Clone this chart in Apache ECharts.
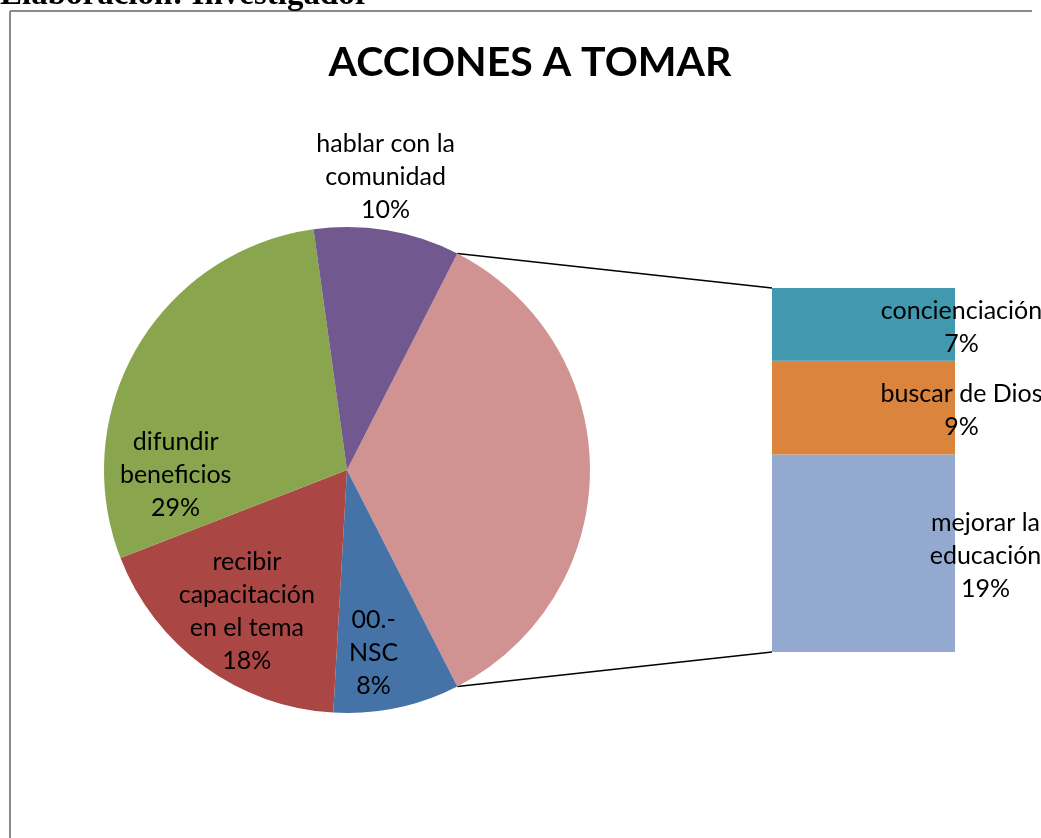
<!DOCTYPE html>
<html>
<head>
<meta charset="utf-8">
<script src="https://cdn.jsdelivr.net/npm/echarts@6/dist/echarts.min.js"></script>
<style>
html,body{margin:0;padding:0;background:#fff;}
#c{width:1041px;height:838px;}
</style>
</head>
<body>
<div id="c"></div>
<script>
// ---- data ----
const titleText = 'ACCIONES A TOMAR';
const sourceText = 'Elaboración: Investigador';
const otherName = 'Otros';
const pieCategories = ['00.-\nNSC', 'recibir\ncapacitación\nen el tema', 'difundir\nbeneficios', 'hablar con la\ncomunidad'];
const pieValues = [8.4, 18.2, 28.7, 9.7];
const barCategories = ['concienciación', 'buscar de Dios', 'mejorar la\neducación'];
const barValues = [7, 9, 19];

// ---- styles ----
const pieColors = ['#4572A7', '#AA4643', '#89A54E', '#71588F'];
const otherColor = '#D19392';
const barColors = ['#4198AF', '#DB843D', '#93A9CF'];
const labelFont = 'Lato';
const pieCenter = [347, 470];
const pieRadius = 243;
const gridBox = { left: 772, top: 288, width: 183, height: 364 };
// label offsets relative to default inside positions (index 0 = the "other" slice)
const pieLabelOffsets = [null, [1, 61], [-27, 40.5], [-64, 68], [18, -170]];
const barLabelOffsets = [[98, 3], [98, 3], [122, 3]];

const sum = a => a.reduce((s, v) => s + v, 0);
const otherValue = sum(barValues);
const total = sum(pieValues) + otherValue;
const startAngle = otherValue / total * 180;

const chart = echarts.init(document.getElementById('c'), null, { renderer: 'canvas' });

const pieData = [{ name: otherName, value: otherValue, itemStyle: { color: otherColor }, label: { show: false }, labelLine: { show: false } }]
  .concat(pieCategories.map((n, i) => ({ name: n, value: pieValues[i], itemStyle: { color: pieColors[i] } })));

const barSeries = [];
for (let i = barCategories.length - 1; i >= 0; i--) {
  barSeries.push({
    type: 'bar',
    name: barCategories[i],
    stack: 'otros',
    data: [barValues[i]],
    barWidth: '100%',
    itemStyle: { color: barColors[i] },
    silent: true,
    label: {
      show: true,
      position: 'inside',
      offset: barLabelOffsets[i],
      formatter: p => p.seriesName + '\n' + Math.round(p.value / total * 100) + '%',
      fontFamily: labelFont,
      fontSize: 25,
      lineHeight: 33,
      color: '#000',
      align: 'center'
    }
  });
}

// connector lines: from the edges of the "other" slice to the corners of the stacked bar
const a = startAngle * Math.PI / 180;
const px = pieCenter[0] + pieRadius * Math.cos(a);
const pyTop = pieCenter[1] - pieRadius * Math.sin(a);
const pyBot = pieCenter[1] + pieRadius * Math.sin(a);
const valueToY = v => gridBox.top + gridBox.height * (1 - v / otherValue);
const barLeft = gridBox.left;

const option = {
  animation: false,
  backgroundColor: '#fff',
  title: {
    text: titleText,
    left: 530,
    top: 42,
    textAlign: 'center',
    padding: 0,
    textStyle: { fontFamily: labelFont, fontWeight: 'bold', fontSize: 41, color: '#000', lineHeight: 41 }
  },
  grid: { left: gridBox.left, top: gridBox.top, width: gridBox.width, height: gridBox.height, containLabel: false },
  xAxis: { type: 'category', data: [otherName], show: false },
  yAxis: { type: 'value', min: 0, max: otherValue, show: false },
  graphic: [
    { type: 'line', silent: true, shape: { x1: 10, y1: 11, x2: 1032, y2: 11 }, style: { stroke: '#8a8a8a', lineWidth: 2 } },
    { type: 'line', silent: true, shape: { x1: 10, y1: 11, x2: 10, y2: 838 }, style: { stroke: '#8a8a8a', lineWidth: 2 } },
    { type: 'text', silent: true, x: 0, y: -5, style: { text: sourceText, font: 'bold 33px "Liberation Serif"', fill: '#000', verticalAlign: 'middle', align: 'left' } },
    { type: 'line', silent: true, shape: { x1: px, y1: pyTop, x2: barLeft, y2: valueToY(otherValue) }, style: { stroke: '#000', lineWidth: 1.7 } },
    { type: 'line', silent: true, shape: { x1: px, y1: pyBot, x2: barLeft, y2: valueToY(0) }, style: { stroke: '#000', lineWidth: 1.7 } }
  ],
  series: [{
    type: 'pie',
    center: pieCenter,
    radius: pieRadius,
    startAngle: startAngle,
    clockwise: true,
    silent: true,
    data: pieData,
    itemStyle: { borderWidth: 0 },
    label: {
      show: true,
      position: 'inside',
      formatter: p => p.name + '\n' + Math.round(p.percent) + '%',
      fontFamily: labelFont,
      fontSize: 25,
      lineHeight: 33,
      color: '#000',
      align: 'center'
    },
    labelLine: { show: false },
    labelLayout: function (params) {
      const o = pieLabelOffsets[params.dataIndex];
      return o ? { dx: o[0], dy: o[1] } : {};
    }
  }].concat(barSeries)
};
chart.setOption(option);
</script>
</body>
</html>
